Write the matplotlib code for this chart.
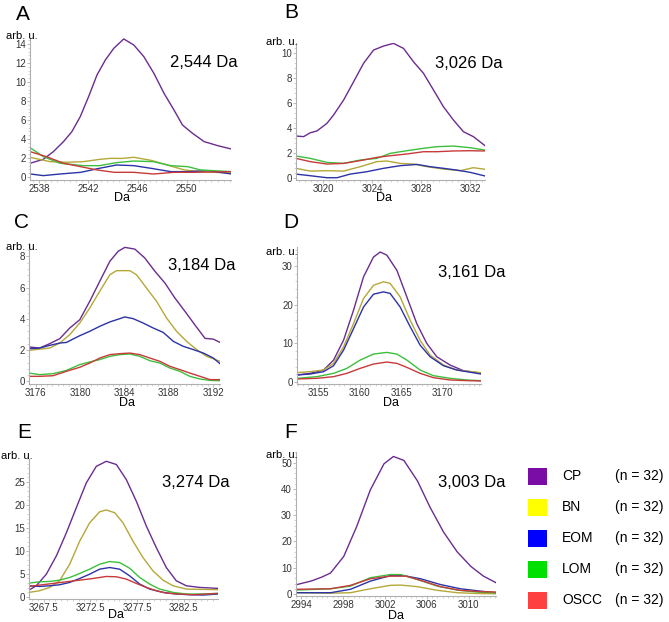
import matplotlib
matplotlib.use('Agg')
import matplotlib.pyplot as plt
from matplotlib.patches import Rectangle
from matplotlib.ticker import AutoMinorLocator

plt.rcParams['font.family'] = ['Liberation Sans', 'DejaVu Sans']

W, H = 669, 622

groups = ['CP', 'BN', 'EOM', 'LOM', 'OSCC']
n_per_group = [32, 32, 32, 32, 32]
line_colors = ['#6a2d8f', '#b5a838', '#2b33a6', '#3cbf3c', '#c83a3a']
legend_colors = ['#7a0da6', '#ffff00', '#0000ff', '#00e000', '#ff4040']

# panel A, 2,544 Da
A_CP = ([2537.27, 2538.35, 2539.17, 2539.99, 2540.67, 2541.35, 2542.03, 2542.71, 2543.39, 2544.07, 2544.88,
         2545.70, 2546.51, 2547.33, 2548.15, 2548.96, 2549.65, 2550.46, 2551.41, 2552.5, 2553.59],
        [1.44, 1.86, 2.67, 3.72, 4.77, 6.35, 8.46, 10.74, 12.32, 13.54, 14.53,
         13.89, 12.67, 10.91, 8.81, 7.05, 5.47, 4.60, 3.72, 3.30, 2.95])
A_BN = ([2537.27, 2538.9, 2540.3, 2541.6, 2542.9, 2543.8, 2544.7, 2545.7, 2547.1, 2548.4, 2549.8, 2551.1, 2552.4, 2553.59],
        [2.07, 1.61, 1.55, 1.61, 1.85, 1.96, 1.95, 2.07, 1.75, 1.26, 0.74, 0.56, 0.48, 0.42])
A_EOM = ([2537.27, 2538.35, 2539.7, 2541.4, 2542.9, 2544.3, 2545.7, 2547.1, 2548.7, 2550.1, 2551.7, 2553.59],
         [0.32, 0.14, 0.31, 0.49, 0.91, 1.26, 1.19, 0.91, 0.56, 0.56, 0.67, 0.32])
A_LOM = ([2537.27, 2538.35, 2539.7, 2541.6, 2542.9, 2544.3, 2545.7, 2547.3, 2548.7, 2550.1, 2551.1, 2553.59],
         [3.09, 2.14, 1.44, 1.19, 1.19, 1.51, 1.68, 1.61, 1.19, 1.08, 0.74, 0.56])
A_OSCC = ([2537.27, 2538.6, 2540.0, 2541.4, 2542.7, 2544.1, 2545.7, 2547.3, 2548.96, 2550.6, 2553.59],
          [2.67, 2.14, 1.44, 1.08, 0.74, 0.49, 0.49, 0.31, 0.49, 0.49, 0.56])

# panel B, 3,026 Da
B_CP = ([3017.77, 3018.39, 3018.94, 3019.48, 3020.30, 3020.84, 3021.66, 3022.48, 3023.29, 3024.11, 3024.93,
         3025.74, 3026.56, 3027.37, 3028.19, 3029.01, 3029.82, 3030.64, 3031.46, 3032.27, 3033.22],
        [3.37, 3.32, 3.63, 3.77, 4.38, 5.04, 6.23, 7.69, 9.15, 10.21, 10.53,
         10.74, 10.34, 9.28, 8.36, 7.03, 5.70, 4.64, 3.71, 3.32, 2.60])
B_BN = ([3017.77, 3018.94, 3020.30, 3021.66, 3023.02, 3024.38, 3025.20, 3026.29, 3027.37, 3028.46, 3029.82, 3031.18, 3032.27, 3033.22],
        [0.80, 0.58, 0.61, 0.58, 0.93, 1.33, 1.38, 1.19, 1.14, 0.93, 0.74, 0.61, 0.85, 0.72])
B_EOM = ([3017.77, 3018.94, 3020.30, 3021.12, 3022.20, 3023.56, 3024.93, 3026.29, 3027.65, 3028.73, 3029.82, 3030.91, 3032.0, 3033.22],
         [0.34, 0.21, 0.05, 0.05, 0.34, 0.53, 0.80, 1.01, 1.11, 0.93, 0.80, 0.66, 0.48, 0.19])
B_LOM = ([3017.77, 3018.94, 3020.30, 3021.66, 3023.02, 3024.38, 3025.47, 3026.83, 3028.19, 3029.28, 3030.64, 3032.0, 3033.22],
         [1.78, 1.59, 1.27, 1.19, 1.46, 1.59, 1.99, 2.20, 2.39, 2.52, 2.57, 2.44, 2.25])
B_OSCC = ([3017.77, 3018.94, 3020.30, 3021.66, 3023.02, 3024.38, 3025.47, 3026.83, 3028.19, 3029.28, 3030.64, 3032.0, 3033.22],
          [1.59, 1.33, 1.14, 1.19, 1.41, 1.67, 1.80, 1.94, 2.12, 2.12, 2.18, 2.20, 2.18])

# panel C, 3,184 Da
C_CP = ([3175.40, 3176.36, 3177.26, 3178.17, 3179.07, 3179.97, 3180.87, 3181.77, 3182.68, 3183.43, 3184.03,
         3184.93, 3185.83, 3186.74, 3187.64, 3188.54, 3189.44, 3190.35, 3191.25, 3192.0, 3192.60],
        [2.20, 2.13, 2.41, 2.73, 3.41, 3.94, 5.12, 6.40, 7.68, 8.32, 8.57,
         8.46, 7.89, 7.04, 6.29, 5.33, 4.48, 3.60, 2.75, 2.70, 2.49])
C_BN = ([3175.40, 3177.26, 3178.17, 3179.07, 3179.97, 3180.87, 3181.77, 3182.68, 3183.28, 3184.48, 3185.08,
         3185.98, 3186.89, 3187.79, 3188.69, 3189.59, 3190.50, 3191.40, 3192.60],
        [1.98, 2.13, 2.45, 2.99, 3.73, 4.69, 5.76, 6.82, 7.08, 7.08, 6.82,
         5.97, 5.12, 4.05, 3.20, 2.56, 2.03, 1.60, 1.28])
C_EOM = ([3175.40, 3176.36, 3177.26, 3178.17, 3178.77, 3179.97, 3180.87, 3181.77, 3182.68, 3183.58, 3184.03,
          3184.78, 3185.68, 3186.59, 3187.49, 3188.39, 3189.29, 3190.20, 3191.10, 3192.0, 3192.60],
         [2.09, 2.13, 2.30, 2.45, 2.49, 2.92, 3.20, 3.52, 3.80, 4.01, 4.12,
          4.01, 3.73, 3.41, 3.13, 2.56, 2.24, 2.03, 1.81, 1.49, 1.13])
C_LOM = ([3175.40, 3176.36, 3177.56, 3178.77, 3179.97, 3180.87, 3181.77, 3182.68, 3183.58, 3184.48,
          3185.38, 3186.29, 3187.19, 3188.09, 3188.99, 3189.89, 3190.80, 3191.70, 3192.60],
         [0.53, 0.43, 0.49, 0.70, 1.07, 1.24, 1.39, 1.60, 1.71, 1.75,
          1.60, 1.32, 1.17, 0.85, 0.64, 0.32, 0.15, 0.06, 0.04])
C_OSCC = ([3175.40, 3176.36, 3177.56, 3178.77, 3179.97, 3180.87, 3181.77, 3182.68, 3183.58, 3184.48,
           3185.38, 3186.29, 3187.19, 3188.09, 3188.99, 3189.89, 3190.80, 3191.70, 3192.60],
          [0.32, 0.32, 0.36, 0.64, 0.90, 1.17, 1.49, 1.71, 1.77, 1.81,
           1.71, 1.49, 1.28, 0.96, 0.75, 0.53, 0.32, 0.11, 0.11])

# panel D, 3,161 Da
D_CP = ([3152.39, 3153.99, 3155.60, 3156.81, 3158.02, 3159.22, 3160.43, 3161.63, 3162.44, 3163.24,
         3164.45, 3165.66, 3166.86, 3168.07, 3169.27, 3170.88, 3172.49, 3174.62],
        [1.81, 2.24, 3.10, 5.67, 10.83, 18.57, 27.2, 32.3, 33.6, 32.8,
         28.9, 22.0, 15.1, 9.97, 6.53, 4.39, 2.92, 2.24])
D_BN = ([3152.39, 3153.99, 3155.60, 3156.81, 3158.02, 3159.22, 3160.43, 3161.63, 3162.84, 3163.64,
         3164.85, 3166.06, 3167.26, 3168.47, 3170.08, 3171.69, 3174.62],
        [2.41, 2.67, 3.10, 4.82, 9.11, 15.1, 21.6, 25.0, 25.9, 25.5,
         22.0, 16.0, 10.8, 6.96, 4.39, 3.10, 2.41])
D_EOM = ([3152.39, 3153.99, 3155.60, 3156.81, 3158.02, 3159.22, 3160.43, 3161.63, 3162.84, 3163.64,
          3164.85, 3166.06, 3167.26, 3168.47, 3170.08, 3171.69, 3174.62],
         [1.81, 2.06, 2.67, 4.21, 8.25, 13.8, 19.4, 22.7, 23.3, 22.9,
          19.4, 14.3, 9.54, 6.53, 4.21, 3.10, 2.06])
D_LOM = ([3152.39, 3154.80, 3156.81, 3158.42, 3160.03, 3161.63, 3163.24, 3164.45, 3165.66, 3167.26,
          3168.87, 3170.88, 3172.89, 3174.62],
         [0.95, 1.38, 2.24, 3.53, 5.67, 7.22, 7.65, 7.22, 5.67, 3.10,
          1.63, 0.95, 0.52, 0.34])
D_OSCC = ([3152.39, 3154.80, 3156.81, 3158.42, 3160.03, 3161.63, 3163.24, 3164.45, 3165.66, 3167.26,
           3168.87, 3170.88, 3172.89, 3174.62],
          [0.77, 0.95, 1.38, 2.24, 3.53, 4.64, 5.16, 4.82, 3.78, 2.24,
           1.12, 0.52, 0.35, 0.26])

# panel E, 3,274 Da
E_CP = ([3265.93, 3266.71, 3267.79, 3268.86, 3269.93, 3271.0, 3272.07, 3273.14, 3274.21, 3275.29,
         3276.36, 3277.43, 3278.5, 3279.57, 3280.64, 3281.71, 3282.79, 3284.21, 3286.18],
        [1.45, 2.38, 4.91, 8.89, 13.9, 19.4, 24.8, 28.4, 29.5, 28.8,
         25.5, 20.8, 15.4, 10.7, 6.36, 3.47, 2.38, 2.02, 1.81])
E_BN = ([3265.93, 3267.07, 3268.14, 3269.21, 3270.29, 3271.36, 3272.43, 3273.5, 3274.21, 3275.11,
         3276.0, 3277.07, 3278.14, 3279.21, 3280.29, 3281.36, 3282.79, 3286.18],
        [0.94, 1.30, 2.02, 3.47, 7.08, 12.1, 16.1, 18.5, 18.9, 18.3,
         16.1, 12.1, 8.53, 5.64, 3.61, 2.38, 1.66, 1.52])
E_EOM = ([3265.93, 3267.07, 3268.14, 3269.21, 3270.29, 3271.36, 3272.43, 3273.5, 3274.57, 3275.64,
          3276.71, 3277.79, 3278.86, 3280.29, 3281.71, 3283.14, 3284.57, 3286.18],
         [2.38, 2.24, 2.38, 2.60, 3.11, 3.97, 4.91, 6.0, 6.36, 6.0,
          4.55, 2.75, 1.66, 0.94, 0.58, 0.43, 0.36, 0.58])
E_LOM = ([3265.93, 3267.07, 3268.14, 3269.21, 3270.29, 3271.36, 3272.43, 3273.5, 3274.57, 3275.64,
          3276.71, 3277.79, 3278.86, 3279.93, 3281.36, 3282.79, 3284.21, 3286.18],
         [2.96, 3.25, 3.32, 3.61, 4.19, 5.06, 6.0, 7.08, 7.66, 7.44,
          6.21, 4.19, 2.75, 1.66, 0.94, 0.58, 0.58, 0.72])
E_OSCC = ([3265.93, 3267.07, 3268.5, 3269.93, 3271.36, 3272.79, 3274.21, 3275.29, 3276.36, 3277.43,
           3278.5, 3279.57, 3280.64, 3282.07, 3283.5, 3284.93, 3286.18],
          [2.24, 2.53, 2.89, 3.25, 3.61, 3.97, 4.41, 4.34, 3.83, 2.89,
           2.02, 1.30, 0.79, 0.58, 0.43, 0.58, 0.72])

# panel F, 3,003 Da
F_CP = ([2993.5, 2995.0, 2996.0, 2996.8, 2998.06, 2999.3, 3000.6, 3001.9, 3002.8, 3003.8,
         3005.1, 3006.3, 3007.6, 3008.9, 3010.2, 3011.4, 3012.6],
        [3.5, 5.0, 6.5, 8.0, 14.3, 25.7, 39.6, 49.5, 52.3, 50.8,
         43.0, 33.0, 23.5, 16.0, 10.5, 6.8, 4.3])
F_BN = ([2993.5, 2996.8, 2998.7, 3000.6, 3002.5, 3003.5, 3005.1, 3007.0, 3008.9, 3010.8, 3012.6],
        [0.5, 0.3, 0.5, 2.0, 3.3, 3.4, 2.8, 1.4, 0.5, 0.2, 0.1])
F_EOM = ([2993.5, 2996.8, 2998.7, 3000.6, 3002.5, 3003.8, 3005.4, 3007.3, 3009.2, 3011.1, 3012.6],
         [0.5, 0.5, 1.8, 4.9, 7.0, 7.0, 5.8, 3.6, 2.0, 1.1, 0.5])
F_LOM = ([2993.5, 2996.8, 2998.7, 3000.6, 3002.5, 3003.5, 3005.1, 3007.0, 3008.9, 3010.8, 3012.6],
         [1.5, 2.0, 3.0, 6.2, 7.4, 7.4, 5.5, 3.0, 1.5, 0.75, 0.5])
F_OSCC = ([2993.5, 2996.8, 2998.7, 3000.6, 3002.5, 3004.0, 3005.4, 3007.3, 3009.2, 3011.1, 3012.6],
          [1.8, 2.0, 3.3, 5.8, 6.8, 6.8, 5.2, 2.8, 1.4, 0.9, 0.75])


def box(l, t, r, b):
    return [l / W, 1 - b / H, (r - l) / W, (b - t) / H]


panels = [
    # letter, mass label, series, axes box (px), xlim, ylim, xticks, yticks,
    # letter pos, mass pos, arb pos, Da pos
    ('A', '2,544 Da', [A_CP, A_BN, A_EOM, A_LOM, A_OSCC], (30, 38, 231, 180), (2537.27, 2553.59), (-0.32, 14.63),
     [2538, 2542, 2546, 2550], range(0, 15, 2), (16, 20), (170, 67), (38, 39), (122, 201)),
    ('B', '3,026 Da', [B_CP, B_BN, B_EOM, B_LOM, B_OSCC], (296, 43, 485, 180), (3017.77, 3033.22), (-0.13, 10.77),
     [3020, 3024, 3028, 3032], range(0, 11, 2), (284, 18), (435, 68), (298, 45), (384, 201)),
    ('C', '3,184 Da', [C_CP, C_BN, C_EOM, C_LOM, C_OSCC], (29, 243, 220, 384), (3175.4, 3192.6), (-0.17, 8.85),
     [3176, 3180, 3184, 3188, 3192], range(0, 9, 2), (14, 228), (168, 270), (38, 250), (127, 406)),
    ('D', '3,161 Da', [D_CP, D_BN, D_EOM, D_LOM, D_OSCC], (297, 247, 481, 384), (3152.39, 3174.62), (-0.52, 34.9),
     [3155, 3160, 3165, 3170], [0, 10, 20, 30], (283, 228), (438, 277), (298, 255), (391, 406)),
    ('E', '3,274 Da', [E_CP, E_BN, E_EOM, E_LOM, E_OSCC], (29, 459, 218, 599), (3265.93, 3286.18), (-0.5, 30.0),
     [3267.5, 3272.5, 3277.5, 3282.5], range(0, 26, 5), (17, 438), (162, 487), (33, 459), (116, 618)),
    ('F', '3,003 Da', [F_CP, F_BN, F_EOM, F_LOM, F_OSCC], (296, 452, 496, 596), (2993.5, 3012.6), (-0.75, 54.0),
     [2994, 2998, 3002, 3006, 3010], range(0, 51, 10), (284, 438), (438, 487), (298, 458), (396, 619)),
]

fig = plt.figure(figsize=(W / 100, H / 100), dpi=100)

for letter, mass, series, rect, xlim, ylim, xticks, yticks, lpos, mpos, apos, dpos in panels:
    ax = fig.add_axes(box(*rect))
    for (x, y), c in zip(series, line_colors):
        ax.plot(x, y, color=c, lw=1.0)
    ax.set_xlim(*xlim)
    ax.set_ylim(*ylim)
    ax.set_xticks(xticks)
    ax.set_yticks(list(yticks))
    ax.xaxis.set_minor_locator(AutoMinorLocator(8))
    ax.yaxis.set_minor_locator(AutoMinorLocator(5))
    for s in ['top', 'right']:
        ax.spines[s].set_visible(False)
    for s in ['left', 'bottom']:
        ax.spines[s].set_color('#b0b0b0')
        ax.spines[s].set_linewidth(0.8)
    ax.tick_params(which='major', length=2, width=0.6, color='#b0b0b0', labelsize=7, labelcolor='#333333', pad=1)
    ax.tick_params(which='minor', length=1.5, width=0.5, color='#c0c0c0')
    fig.text(lpos[0] / W, 1 - lpos[1] / H, letter, fontsize=15, va='baseline', ha='left')
    fig.text(mpos[0] / W, 1 - mpos[1] / H, mass, fontsize=12, va='baseline', ha='left')
    fig.text(apos[0] / W, 1 - apos[1] / H, 'arb. u.', fontsize=8, va='baseline', ha='right')
    fig.text(dpos[0] / W, 1 - dpos[1] / H, 'Da', fontsize=9, va='baseline', ha='center')

# legend drawn as a small key panel
lax = fig.add_axes(box(520, 455, 669, 620))
lax.set_xlim(520, 669)
lax.set_ylim(620, 455)
lax.axis('off')
for i, (g, n, c) in enumerate(zip(groups, n_per_group, legend_colors)):
    yc = 476 + 31 * i
    lax.add_patch(Rectangle((528, yc - 8.5), 19, 17, color=c, lw=0))
    lax.text(562, yc, g, fontsize=10, va='center', ha='left')
    lax.text(615, yc, '(n = {})'.format(n), fontsize=10, va='center', ha='left')

fig.savefig('out.png', dpi=100)
